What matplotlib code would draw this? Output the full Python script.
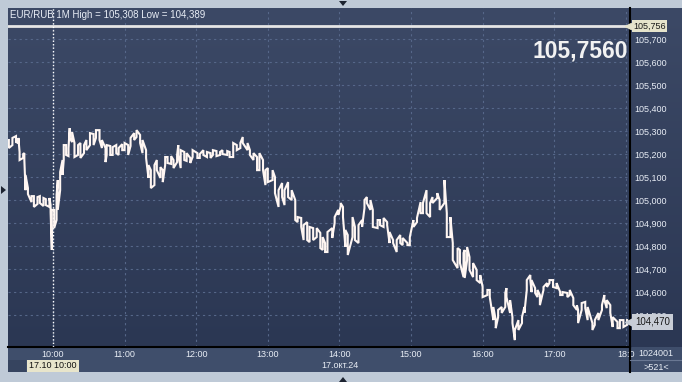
import matplotlib.pyplot as plt
import matplotlib.transforms as mtransforms
from matplotlib.colors import LinearSegmentedColormap
from matplotlib.patches import Rectangle, Polygon
from matplotlib.lines import Line2D
import numpy as np

plt.rcParams['font.family'] = ['Liberation Sans', 'DejaVu Sans']

# EUR/RUB, 1 minute bars, 17.10.24 -- time in minutes after 10:00
minutes = [-37, -34, -31, -29, -28, -25, -24, -23, -21, -18, -16, -13, -11, -8, -6, -3, -2, -1,
           1, 3, 4, 6, 8, 9, 11, 13, 14, 16, 18, 21, 23, 26, 28, 31, 34, 36, 39, 41, 44, 45,
           48, 50, 53, 55, 58, 60, 63, 65, 68, 70, 73, 75, 78, 80, 82, 85, 87, 90, 92, 94,
           96, 99, 101, 104, 105, 107, 110, 112, 115, 117, 121, 123, 126, 129, 132, 134, 137, 140, 142, 146,
           148, 151, 154, 157, 159, 163, 165, 168, 171, 173, 176, 178, 180, 184, 186, 189, 192, 194, 197, 200,
           203, 205, 208, 210, 213, 215, 218, 221, 224, 226, 228, 230, 234, 236, 239, 241, 243, 245, 247, 251,
           253, 256, 259, 261, 263, 266, 268, 272, 274, 277, 280, 282, 285, 288, 291, 293, 297, 299, 302, 305,
           308, 310, 313, 316, 318, 322, 324, 328, 330, 333, 335, 339, 341, 344, 345, 347, 349, 352, 355, 358,
           360, 364, 366, 369, 371, 373, 376, 379, 380, 383, 385, 387, 390, 393, 395, 397, 400, 401, 404, 406,
           408, 411, 414, 416, 419, 422, 425, 427, 431, 433, 436, 439, 440, 443, 446, 448, 452, 454, 457, 460,
           462, 464, 467, 469, 473, 475, 478, 481]
highs = [105.261, 105.270, 105.278, 105.270, 105.209, 105.200, 105.204, 105.109, 105.052, 105.017,
         105.017, 105.013, 105.017, 105.009, 105.004, 105.009, 104.978, 104.957, 104.957, 105.022,
         105.087, 105.122, 105.174, 105.239, 105.239, 105.226, 105.313, 105.296, 105.248, 105.239,
         105.248, 105.239, 105.261, 105.291, 105.287, 105.304, 105.304, 105.261, 105.226, 105.239,
         105.235, 105.230, 105.239, 105.226, 105.243, 105.248, 105.239, 105.270, 105.291, 105.304,
         105.283, 105.261, 105.217, 105.152, 105.130, 105.152, 105.174, 105.143, 105.130, 105.187,
         105.187, 105.191, 105.174, 105.196, 105.239, 105.217, 105.209, 105.204, 105.183, 105.217,
         105.204, 105.200, 105.217, 105.209, 105.204, 105.217, 105.213, 105.209, 105.217, 105.213,
         105.209, 105.248, 105.239, 105.248, 105.274, 105.248, 105.217, 105.204, 105.187, 105.204,
         105.174, 105.130, 105.139, 105.130, 105.100, 105.043, 105.074, 105.043, 105.078, 105.043,
         105.000, 104.926, 104.922, 104.891, 104.904, 104.883, 104.878, 104.878, 104.857, 104.839,
         104.813, 104.861, 104.878, 104.926, 104.957, 104.987, 104.970, 104.870, 104.848, 104.926,
         104.883, 104.891, 104.913, 105.000, 105.013, 105.000, 104.957, 104.913, 104.913, 104.922,
         104.904, 104.861, 104.826, 104.826, 104.848, 104.835, 104.813, 104.839, 104.913, 104.922,
         104.991, 104.987, 105.043, 104.987, 105.013, 105.030, 105.000, 105.087, 104.943, 104.926,
         104.813, 104.791, 104.783, 104.770, 104.783, 104.796, 104.752, 104.726, 104.696, 104.674,
         104.622, 104.609, 104.609, 104.535, 104.478, 104.522, 104.535, 104.596, 104.617, 104.565,
         104.491, 104.435, 104.478, 104.491, 104.535, 104.652, 104.674, 104.652, 104.617, 104.609,
         104.587, 104.622, 104.639, 104.652, 104.652, 104.639, 104.600, 104.600, 104.596, 104.609,
         104.574, 104.543, 104.522, 104.552, 104.557, 104.535, 104.465, 104.478, 104.509, 104.543,
         104.587, 104.565, 104.543, 104.491, 104.470, 104.478, 104.478, 104.478]
lows = [105.226, 105.239, 105.252, 105.248, 105.174, 105.183, 105.174, 105.043, 105.026, 104.991,
        104.970, 104.983, 104.987, 104.974, 104.978, 104.970, 104.948, 104.783, 104.878, 104.913,
        104.957, 105.043, 105.109, 105.174, 105.196, 105.191, 105.270, 105.252, 105.187, 105.196,
        105.183, 105.204, 105.217, 105.239, 105.239, 105.270, 105.261, 105.226, 105.165, 105.196,
        105.196, 105.196, 105.204, 105.196, 105.217, 105.217, 105.196, 105.235, 105.261, 105.274,
        105.248, 105.204, 105.183, 105.096, 105.052, 105.065, 105.130, 105.096, 105.078, 105.152,
        105.161, 105.157, 105.139, 105.165, 105.196, 105.139, 105.174, 105.170, 105.161, 105.187,
        105.183, 105.183, 105.196, 105.187, 105.183, 105.196, 105.191, 105.196, 105.200, 105.196,
        105.187, 105.187, 105.217, 105.226, 105.248, 105.217, 105.196, 105.174, 105.130, 105.130,
        105.130, 105.065, 105.078, 105.087, 105.030, 104.970, 105.013, 104.978, 105.013, 105.000,
        104.913, 104.904, 104.883, 104.826, 104.826, 104.817, 104.826, 104.839, 104.791, 104.783,
        104.774, 104.774, 104.835, 104.900, 104.935, 104.970, 104.926, 104.796, 104.761, 104.839,
        104.826, 104.813, 104.883, 104.965, 104.987, 104.957, 104.883, 104.878, 104.891, 104.883,
        104.891, 104.813, 104.813, 104.774, 104.813, 104.804, 104.804, 104.804, 104.883, 104.904,
        104.943, 104.943, 104.943, 104.926, 104.987, 105.009, 104.957, 104.987, 104.839, 104.839,
        104.739, 104.704, 104.726, 104.665, 104.661, 104.739, 104.696, 104.665, 104.652, 104.639,
        104.578, 104.587, 104.578, 104.478, 104.443, 104.491, 104.509, 104.535, 104.578, 104.509,
        104.465, 104.391, 104.435, 104.465, 104.509, 104.609, 104.652, 104.600, 104.596, 104.578,
        104.543, 104.609, 104.622, 104.639, 104.622, 104.617, 104.587, 104.587, 104.578, 104.587,
        104.543, 104.522, 104.465, 104.522, 104.530, 104.478, 104.435, 104.457, 104.478, 104.522,
        104.565, 104.530, 104.509, 104.448, 104.443, 104.443, 104.448, 104.457]

hour_ticks = [0, 60, 120, 180, 240, 300, 360, 420, 480]
hour_labels = ['10:00', '11:00', '12:00', '13:00', '14:00', '15:00', '16:00', '17:00', '18:0']
price_ticks = [104.5, 104.6, 104.7, 104.8, 104.9, 105.0, 105.1, 105.2, 105.3, 105.4, 105.5, 105.6, 105.7]
price_labels = ['104,500', '104,600', '104,700', '104,800', '104,900', '105,000', '105,100',
                '105,200', '105,300', '105,400', '105,500', '105,600', '105,700']
level_line = 105.756
last_price = 104.470
big_price = '105,7560'
header = 'EUR/RUB 1M High = 105,308 Low = 104,389'

W, H = 682, 382


def box(x0, y0, x1, y1):
    # pixel box (top-left origin) -> figure fraction
    return [x0 / W, 1 - y1 / H, (x1 - x0) / W, (y1 - y0) / H]


fig = plt.figure(figsize=(W / 100, H / 100), dpi=100, facecolor='#bfcad7')

bg = LinearSegmentedColormap.from_list('bg', ['#3c4966', '#2b3753'])
grad = np.linspace(0, 1, 256).reshape(-1, 1)

# right price panel
axp = fig.add_axes(box(630, 8, 682, 347))
axp.imshow(grad, cmap=bg, extent=[0, 1, 0, 1], aspect='auto')
axp.set_axis_off()

# bottom time band
fig.patches.append(Rectangle((8 / W, 1 - 372 / H), 674 / W, 25 / H, transform=fig.transFigure,
                             facecolor='#3f4e6b', edgecolor='none', zorder=0))
fig.patches.append(Rectangle((8 / W, 1 - 372 / H), 18 / W, 12 / H, transform=fig.transFigure,
                             facecolor='#36445f', edgecolor='none', zorder=0))

ax = fig.add_axes(box(8, 8, 630, 347))
ax.set_zorder(2)
ax.imshow(grad, cmap=bg, extent=[0, 1, 0, 1], transform=ax.transAxes, aspect='auto', zorder=0)

# zigzag through each bar's high/low
xs, ys = [], []
for i, (t, hi, lo) in enumerate(zip(minutes, highs, lows)):
    xs += [t, t]
    ys += [hi, lo] if i % 2 == 0 else [lo, hi]
ax.plot(xs, ys, color='#fff6f2', lw=1.5, zorder=4, solid_joinstyle='miter')

ax.axhline(level_line, color='#e6e6e6', lw=2, zorder=3)
ax.axvline(0, color='white', lw=1, ls=(0, (1, 1.5)), zorder=3)

ax.set_xlim(-37.7, 483.5)
ax.set_ylim(104.361, 105.835)
ax.set_xticks(hour_ticks)
ax.set_xticklabels(hour_labels)
ax.set_yticks(price_ticks)
ax.set_yticklabels(price_labels)
ax.yaxis.tick_right()
ax.tick_params(axis='x', length=0, pad=2.5, labelsize=6.5, labelcolor='#e8edf5')
ax.tick_params(axis='y', length=0, pad=3, labelsize=6.5, labelcolor='#e8edf5')
ax.grid(True, color='#566789', lw=0.8, ls=(0, (2, 3)))
ax.set_axisbelow(True)
for s in ['top', 'left']:
    ax.spines[s].set_visible(False)
for s in ['bottom', 'right']:
    ax.spines[s].set_color('black')
    ax.spines[s].set_linewidth(1.5)

fig.lines.append(Line2D([630 / W, 630 / W], [1 - 372 / H, 1 - 347 / H], transform=fig.transFigure,
                        color='black', lw=1.5))
fig.lines.append(Line2D([630 / W, 682 / W], [1 - 360 / H, 1 - 360 / H], transform=fig.transFigure,
                        color='#6a7893', lw=0.8))

fig.text(10 / W, 1 - 15 / H, header, fontsize=7, color='#e8edf5', va='center', zorder=5)
fig.text(628 / W, 1 - 51 / H, big_price, fontsize=16.5, fontweight='bold', color='#f2f2f2',
         ha='right', va='center', zorder=5)

# price markers on the right panel
tr = mtransforms.blended_transform_factory(fig.transFigure, ax.transData)
ax.text(633 / W, level_line, '105,756', transform=tr, fontsize=6.5, color='#1a1a1a', va='center',
        clip_on=False, zorder=6,
        bbox=dict(boxstyle='square,pad=0.15', facecolor='#e6e4cc', edgecolor='none'))
ax.plot([628 / W], [level_line], marker='<', ms=5, color='#e6e4cc', transform=tr, clip_on=False, zorder=6)
ax.text(635 / W, last_price, '104,470', transform=tr, fontsize=7, color='#1a1a1a', va='center',
        clip_on=False, zorder=6,
        bbox=dict(boxstyle='square,pad=0.3', facecolor='#c8cdd6', edgecolor='none'))
ax.plot([630 / W], [last_price], marker='<', ms=7, color='#c8cdd6', transform=tr, clip_on=False, zorder=6)

# bottom band texts
fig.text(53 / W, 1 - 366 / H, '17.10 10:00', fontsize=6.5, color='#111111', ha='center', va='center',
         zorder=5, bbox=dict(boxstyle='square,pad=0.2', facecolor='#e8e5cb', edgecolor='none'))
fig.text(340 / W, 1 - 366 / H, '17.окт.24', fontsize=6.5, color='#e8edf5', ha='center', va='center', zorder=5)
fig.text(656 / W, 1 - 354 / H, '1024001', fontsize=6.5, color='#e8edf5', ha='center', va='center', zorder=5)
fig.text(656 / W, 1 - 367 / H, '>521<', fontsize=6.5, color='#e8edf5', ha='center', va='center', zorder=5)

# little navigation arrows on the frame
for pts in ([(339, 1), (347, 1), (343, 6)], [(1, 186), (1, 194), (6, 190)], [(339, 382), (347, 382), (343, 377)]):
    fig.patches.append(Polygon([(x / W, 1 - y / H) for x, y in pts], closed=True, transform=fig.transFigure,
                               facecolor='#1c2330', edgecolor='none', zorder=1))

fig.savefig('out.png', dpi=100, facecolor=fig.get_facecolor())
